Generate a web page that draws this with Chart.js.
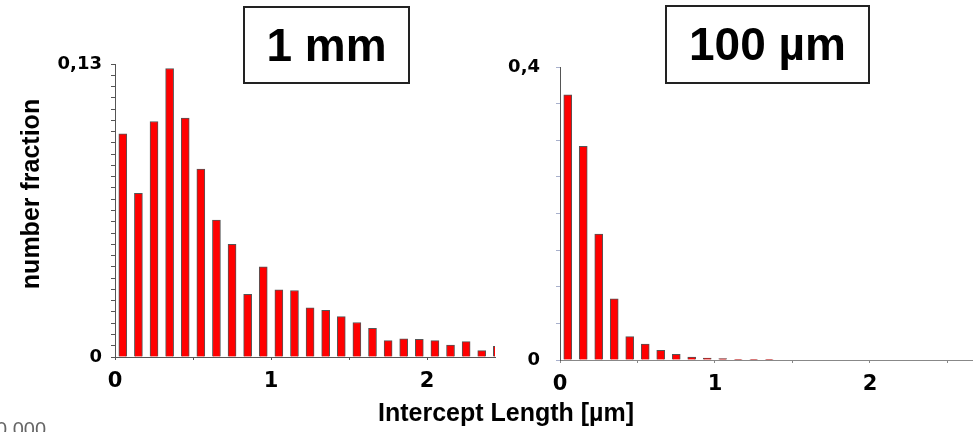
<!DOCTYPE html>
<html>
<head>
<meta charset="utf-8">
<script src="https://cdn.jsdelivr.net/npm/chart.js@4/dist/chart.umd.min.js"></script>
<style>
  html, body { margin: 0; padding: 0; background: #fff; }
  #wrap { position: relative; width: 973px; height: 432px; overflow: hidden; font-family: 'Liberation Sans', Arial, sans-serif; }
  canvas { position: absolute; top: 0; }
  .box { position: absolute; border: 2px solid #222; box-sizing: border-box; font-weight: bold; font-size: 46px; text-align: center; color: #000; }
  .lbl { position: absolute; font-weight: bold; color: #000; white-space: nowrap; }
</style>
</head>
<body>
<div id="wrap">
  <canvas id="chartMm" width="500" height="400" style="left:0"></canvas>
  <canvas id="chartUm" width="473" height="400" style="left:500px"></canvas>
  <div class="box" style="left:243px; top:6px; width:167px; height:78px; line-height:74px;">1 mm</div>
  <div class="box" style="left:665px; top:5px; width:205px; height:79px; line-height:75px;">100 µm</div>
  <div class="lbl" style="left:30px; top:194px; font-size:25px; transform: translate(-50%, -50%) rotate(-90deg);">number fraction</div>
  <div class="lbl" style="left:506px; top:412px; font-size:25px; transform: translate(-50%, -50%);">Intercept Length [µm]</div>
  <div style="position:absolute; left:-4px; top:419px; font-size:20px; line-height:20px; color:#666;">0.000</div>
</div>
<script>
// histogram bins (intercept length, µm) and number fractions
const binsMm = [0.05, 0.15, 0.25, 0.35, 0.45, 0.55, 0.65, 0.75, 0.85, 0.95, 1.05, 1.15, 1.25,
                1.35, 1.45, 1.55, 1.65, 1.75, 1.85, 1.95, 2.05, 2.15, 2.25, 2.35, 2.45];
const fractionMm = [0.099, 0.0726, 0.1045, 0.128, 0.106, 0.0834, 0.0607, 0.050, 0.0278, 0.040,
                    0.0298, 0.0295, 0.0218, 0.0207, 0.0179, 0.0153, 0.0127, 0.0073, 0.0081,
                    0.0078, 0.0073, 0.0053, 0.0068, 0.0028, 0.0047];

const binsUm = [0.05, 0.15, 0.25, 0.35, 0.45, 0.55, 0.65, 0.75, 0.85, 0.95, 1.05, 1.15, 1.25, 1.35];
const fractionUm = [0.362, 0.2916, 0.1718, 0.0834, 0.0319, 0.0219, 0.0132, 0.0077, 0.0041,
                    0.0027, 0.0018, 0.0009, 0.0004, 0.0003];

const yLabelsMm = { 0: '0', 0.13: '0,13' };
const yLabelsUm = { 0: '0', 0.4: '0,4' };
const xLabels = { 0: '0', 1: '1', 2: '2' };

const TICK_FONT = "'DejaVu Sans', sans-serif";

function pickLabel(map, v) {
  for (const k in map) {
    if (Math.abs(v - Number(k)) < 1e-6) return map[k];
  }
  return '';
}

function makeHist(id, bins, values, o) {
  const ctx = document.getElementById(id).getContext('2d');
  return new Chart(ctx, {
    type: 'bar',
    data: {
      datasets: [{
        data: bins.map((b, i) => ({ x: b, y: values[i] })),
        backgroundColor: '#ff0000',
        borderColor: '#555',
        borderWidth: 1,
        barThickness: 8
      }]
    },
    options: {
      responsive: false,
      animation: false,
      layout: { padding: { top: o.top, right: o.right, left: 0, bottom: 0 } },
      plugins: { legend: { display: false }, tooltip: { enabled: false } },
      scales: {
        x: {
          type: 'linear',
          min: 0,
          max: o.xMax,
          offset: false,
          grid: { offset: false, drawOnChartArea: false, tickLength: 3, color: o.xAxisColor },
          border: { color: o.xAxisColor },
          ticks: {
            stepSize: 0.5,
            includeBounds: false,
            maxRotation: 0,
            autoSkip: false,
            padding: 9,
            color: '#000',
            font: { family: TICK_FONT, size: 21, weight: 'bold' },
            callback: v => pickLabel(xLabels, v)
          },
          afterFit: s => { s.height = o.xHeight; }
        },
        y: {
          min: 0,
          max: o.yMax,
          grid: { drawOnChartArea: false, tickLength: 4, color: o.yTickColor },
          border: { color: '#555' },
          ticks: {
            stepSize: o.yStep,
            includeBounds: false,
            autoSkip: false,
            padding: o.yPad,
            color: '#000',
            font: { family: TICK_FONT, size: 18, weight: 'bold' },
            callback: v => pickLabel(o.yLabels, v)
          },
          afterFit: s => { s.width = o.yWidth; }
        }
      }
    }
  });
}

makeHist('chartMm', binsMm, fractionMm, {
  top: 64, right: 5, xMax: 2.435, xHeight: 43, yWidth: 115, yPad: 9,
  yMax: 0.13, yStep: 0.005, yLabels: yLabelsMm,
  xAxisColor: '#555', yTickColor: '#555'
});

makeHist('chartUm', binsUm, fractionUm, {
  top: 67, right: 0, xMax: 2.665, xHeight: 40, yWidth: 60, yPad: 16,
  yMax: 0.4, yStep: 0.05, yLabels: yLabelsUm,
  xAxisColor: '#888', yTickColor: '#a8b0cc'
});
</script>
</body>
</html>
